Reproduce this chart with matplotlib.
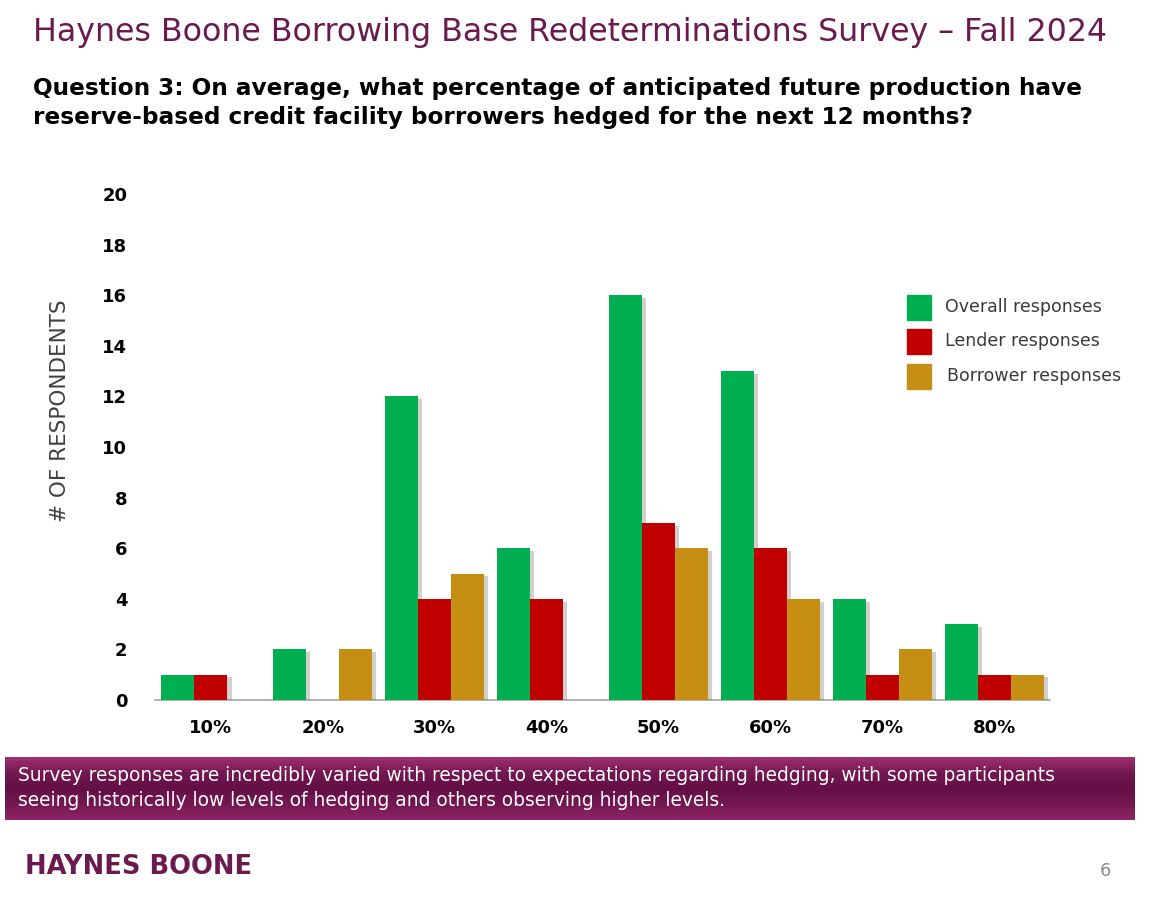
import numpy as np
import matplotlib
matplotlib.use("Agg")
from matplotlib import pyplot as plt
from matplotlib import patheffects as pe
from matplotlib.colors import LinearSegmentedColormap

# data
categories = ['10%', '20%', '30%', '40%', '50%', '60%', '70%', '80%']
overall = [1, 2, 12, 6, 16, 13, 4, 3]
lender = [1, 0, 4, 4, 7, 6, 1, 1]
borrower = [0, 2, 5, 0, 6, 4, 2, 1]
series_names = ['Overall responses', 'Lender responses', 'Borrower responses']
colors = ['#00B050', '#C00000', '#C68F14']
yticks = [0, 2, 4, 6, 8, 10, 12, 14, 16, 18, 20]

purple = '#6B1A4F'

fig = plt.figure(figsize=(11.59, 8.98), dpi=100)
fig.patch.set_facecolor('white')

# titles
fig.text(33/1159, 1 - 32/898, 'Haynes Boone Borrowing Base Redeterminations Survey \u2013 Fall 2024',
         fontsize=22.8, color=purple, va='center', ha='left', family='DejaVu Sans')
fig.text(33/1159, 1 - 103/898,
         'Question 3: On average, what percentage of anticipated future production have\n'
         'reserve-based credit facility borrowers hedged for the next 12 months?',
         fontsize=16.7, fontweight='bold', color='black', va='center', ha='left',
         linespacing=1.3, family='DejaVu Sans')

# main chart
ax = fig.add_axes([155/1159, 1 - 700/898, (1050 - 155)/1159, (700 - 194)/898])
x = np.arange(len(categories))
w = 0.295
shadow = [pe.SimplePatchShadow(offset=(3, -2), alpha=0.3, shadow_rgbFace='#666666'), pe.Normal()]
for i, vals in enumerate([overall, lender, borrower]):
    bars = ax.bar(x + (i - 1) * w, vals, width=w, color=colors[i], label=series_names[i], zorder=3)
    for b in bars:
        if b.get_height() > 0:
            b.set_path_effects(shadow)

ax.set_xlim(-0.5, 7.5)
ax.set_ylim(0, 20)
ax.set_yticks(yticks)
ax.set_xticks(x)
ax.set_xticklabels(categories)
for lbl in ax.get_xticklabels() + ax.get_yticklabels():
    lbl.set_fontweight('bold')
    lbl.set_fontsize(13)
ax.tick_params(axis='y', length=0, pad=20)
ax.tick_params(axis='x', length=0, pad=14)
for s in ['top', 'right', 'left']:
    ax.spines[s].set_visible(False)
ax.spines['bottom'].set_color('#A6A6A6')
ax.spines['bottom'].set_linewidth(1.2)
ax.set_facecolor('none')

fig.text(60/1159, 1 - 411/898, '# OF RESPONDENTS', rotation=90, fontsize=15.5,
         color='#404040', va='center', ha='center')

# legend drawn as squares and text
leg_y = [307, 341, 376]
for i in range(3):
    fig.patches.append(plt.Rectangle((907/1159, 1 - (leg_y[i] + 12.5)/898), 24/1159, 25/898,
                                     transform=fig.transFigure, color=colors[i]))
    fig.text((945 + (2 if i == 2 else 0))/1159, 1 - leg_y[i]/898, series_names[i],
             fontsize=12.5, color='#3A3A3A', va='center', ha='left')

# bottom banner
bx = fig.add_axes([5/1159, 1 - 820/898, 1130/1159, 63/898])
cmap = LinearSegmentedColormap.from_list('band', ['#A0306F', '#731852', '#640F45', '#731852', '#902466'])
grad = np.linspace(0, 1, 100).reshape(-1, 1)
bx.imshow(grad, aspect='auto', cmap=cmap, extent=[0, 1, 0, 1])
bx.axis('off')
fig.text(18/1159, 1 - 788/898,
         'Survey responses are incredibly varied with respect to expectations regarding hedging, with some participants\n'
         'seeing historically low levels of hedging and others observing higher levels.',
         fontsize=13.4, color='white', va='center', ha='left', linespacing=1.4)

# footer
fig.text(25/1159, 1 - 867/898, 'HAYNES BOONE', fontsize=18.5, fontweight='bold',
         color=purple, va='center', ha='left')
fig.text(1105/1159, 1 - 871/898, '6', fontsize=13, color='#8C8C8C', va='center', ha='center')

fig.savefig('out.png', dpi=100, facecolor='white')
